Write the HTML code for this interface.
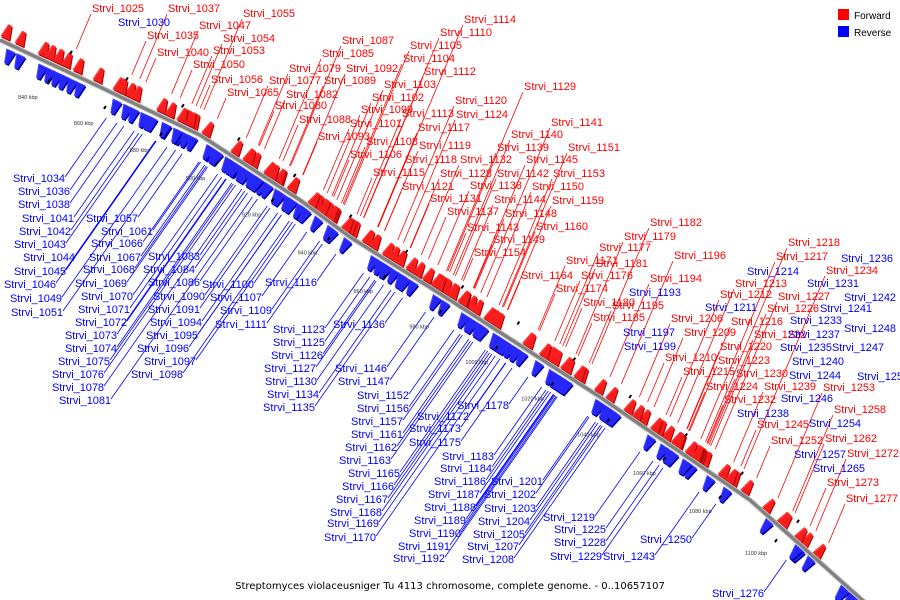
<!DOCTYPE html>
<html><head><meta charset="utf-8">
<style>
html,body{margin:0;padding:0;background:#fff;overflow:hidden;width:900px;height:600px;}
svg{display:block;font-family:"Liberation Sans",sans-serif;overflow:hidden;}
</style></head>
<body>
<svg id="chart" width="900" height="600" viewBox="0 0 900 600">
  <g id="leaders"></g>
  <g id="glyphs"></g>
  <path id="backbone-shadow" fill="none" stroke="#bbb" stroke-width="5"/>
  <path id="backbone" fill="none" stroke="#808080" stroke-width="3"/>
  <g id="ticks"></g>
  <g id="labels"></g>
  <g>
    <rect x="838" y="9" width="11" height="11" fill="#ff0000"/>
    <text x="854" y="19" font-size="10" fill="#000">Forward</text>
    <rect x="838" y="26" width="11" height="11" fill="#0000ff"/>
    <text x="854" y="36" font-size="10" fill="#000">Reverse</text>
  </g>
  <text x="450" y="589" font-size="10" text-anchor="middle" fill="#000" font-family="'DejaVu Sans',sans-serif">Streptomyces violaceusniger Tu 4113 chromosome, complete genome. - 0..10657107</text>
</svg>
<script>
// backbone route (layout geometry)
const bbX = [0,100,200,300,350,450,600,750,860,900];
const bbY = [40,87,135,200,237,300,397,500,598,632];
// tick data
const tickLabels = ["840 kbp","860 kbp","880 kbp","900 kbp","920 kbp","940 kbp","960 kbp","980 kbp","1000 kbp","1020 kbp","1040 kbp","1060 kbp","1080 kbp","1100 kbp"];
const tickKbp = [840,860,880,900,920,940,960,980,1000,1020,1040,1060,1080,1100];
// unlabeled gene positions near the start (x along backbone)
const extraFwdX = [8,22,45,52,60,80,100,120];
const extraRevX = [8,18,40,48,55,62,70,78];
// forward (red) labels
const fwdNames = ["1025","1037","1055","1047","1035","1054","1040","1053","1050","1056","1065","1087","1085","1079","1092","1077","1089","1082","1080","1088","1093","1114","1110","1105","1104","1112","1103","1102","1099","1101","1113","1120","1124","1117","1129","1108","1106","1119","1118","1115","1141","1140","1139","1151","1132","1128","1145","1142","1153","1121","1138","1150","1131","1144","1159","1137","1148","1143","1160","1149","1154","1182","1179","1177","1196","1171","1181","1176","1164","1194","1174","1180","1195","1185","1206","1218","1217","1234","1213","1227","1212","1226","1216","1209","1222","1220","1210","1223","1215","1230","1224","1239","1253","1232","1258","1245","1252","1262","1272","1273","1277"];
const fwdX = [92,168,243,199,147,223,157,213,193,211,227,342,322,289,346,269,324,286,275,299,318,464,440,410,403,424,384,372,361,350,402,455,456,418,524,366,350,419,405,373,551,511,497,568,460,440,526,497,553,402,470,532,430,494,552,447,505,467,536,493,474,650,624,599,674,566,596,581,521,650,556,583,612,593,671,788,776,826,735,778,720,767,731,684,754,720,665,718,683,736,706,764,823,724,834,757,771,825,847,827,846];
const fwdY = [12,12,17,29,39,42,56,54,68,83,96,44,57,72,72,84,84,98,109,123,140,23,36,49,62,75,88,101,113,127,117,104,118,131,90,145,158,149,163,176,126,138,151,151,163,177,163,177,177,190,189,190,202,203,204,215,217,231,230,243,256,226,240,251,259,264,267,279,279,282,292,306,309,321,322,246,260,274,287,300,298,312,325,336,338,350,361,364,375,377,390,390,391,403,413,428,444,442,457,486,502];
// reverse (blue) labels
const revNames = ["1030","1034","1036","1038","1041","1042","1043","1044","1045","1046","1049","1051","1057","1061","1066","1067","1068","1069","1070","1071","1072","1073","1074","1075","1076","1078","1081","1083","1084","1086","1090","1091","1094","1095","1096","1097","1098","1100","1107","1109","1111","1116","1123","1125","1126","1127","1130","1134","1135","1136","1146","1147","1152","1156","1157","1161","1162","1163","1165","1166","1167","1168","1169","1170","1172","1173","1175","1178","1183","1184","1186","1187","1188","1189","1190","1191","1192","1201","1202","1203","1204","1205","1207","1208","1193","1197","1199","1214","1211","1235","1236","1231","1242","1241","1233","1237","1248","1247","1240","1244","1255","1238","1246","1254","1257","1265","1219","1225","1228","1229","1243","1250","1276"];
const revX = [118,13,18,18,22,19,14,23,14,4,10,11,86,101,91,89,83,75,81,78,75,65,65,58,52,52,59,148,143,148,153,148,150,146,137,144,131,202,210,220,215,265,273,273,271,264,265,267,263,333,335,338,357,357,351,351,345,339,348,342,336,330,327,324,417,409,409,457,442,440,434,428,424,414,409,398,393,491,484,484,478,473,467,462,629,623,624,747,705,780,841,807,844,820,790,788,844,832,792,789,857,737,781,809,794,813,543,554,554,550,603,640,712];
const revY = [26,182,195,208,222,235,248,261,275,288,302,316,222,235,247,261,273,287,300,313,326,339,352,365,378,391,404,260,273,286,300,313,326,339,352,365,378,288,301,314,328,286,333,346,359,372,385,398,411,328,372,385,399,412,425,438,451,464,477,490,503,516,527,541,420,432,446,409,460,472,485,498,511,524,537,550,562,485,498,512,525,538,550,563,296,336,350,275,311,351,262,287,301,312,324,338,332,351,365,379,380,417,402,427,458,472,521,533,546,560,560,543,597];

const NS="http://www.w3.org/2000/svg";
function f(x){
  if(x<=bbX[0]) return bbY[0];
  for(let i=1;i<bbX.length;i++){ if(x<=bbX[i]){const t=(x-bbX[i-1])/(bbX[i]-bbX[i-1]);return bbY[i-1]+t*(bbY[i]-bbY[i-1]);} }
  return bbY[bbY.length-1];
}
function slope(x){return (f(x+6)-f(x-6))/12;}
let d="";for(let x=0;x<=900;x+=5){d+=(x?"L":"M")+x+","+f(x).toFixed(1);}
document.getElementById('backbone').setAttribute('d',d);
document.getElementById('backbone-shadow').setAttribute('d',d);
function xOfKbp(k){return 18+(k-840)*2.796;}
const tickG=document.getElementById('ticks');
tickKbp.forEach((k,i)=>{
  const x=xOfKbp(k), y=f(x+22)+40;
  const t=document.createElementNS(NS,'text');
  
  
  t.setAttribute('x',x.toFixed(1));t.setAttribute('y',y.toFixed(1));t.setAttribute('font-size','5.5');t.setAttribute('fill','#333');
  t.textContent=tickLabels[i];tickG.appendChild(t);
  const mx=x+30;
  const m=document.createElementNS(NS,'line');
  
  
  m.setAttribute('x1',mx+2);m.setAttribute('y1',(f(mx)+17).toFixed(1));m.setAttribute('x2',mx);m.setAttribute('y2',(f(mx)+20).toFixed(1));m.setAttribute('stroke','#000');m.setAttribute('stroke-width','2');
  tickG.appendChild(m);
  const ux=x+52;
  const m2=document.createElementNS(NS,'line');
  
  
  m2.setAttribute('x1',ux+2);m2.setAttribute('y1',(f(ux)-22).toFixed(1));m2.setAttribute('x2',ux);m2.setAttribute('y2',(f(ux)-19).toFixed(1));m2.setAttribute('stroke','#000');m2.setAttribute('stroke-width','2');
  tickG.appendChild(m2);
});
const leadG=document.getElementById('leaders'),glyG=document.getElementById('glyphs'),labG=document.getElementById('labels');
function glyph(x,off,fwd,col,dark){
  const y=f(x)+off;
  const a=Math.atan(slope(x))*180/Math.PI;
  const g=document.createElementNS(NS,'g');
  
  
  g.setAttribute('transform',`translate(${x.toFixed(1)},${y.toFixed(1)}) rotate(${a.toFixed(1)})`);
  const shp=fwd?'M-5,7 L-3,-7 L1,-7 L5,7 Z':'M5,-7 L3,7 L-1,7 L-5,-7 Z';
  const p2=document.createElementNS(NS,'path');
  p2.setAttribute('d',shp);p2.setAttribute('fill',dark);p2.setAttribute('transform','translate(1.5,1)');
  g.appendChild(p2);
  const p=document.createElementNS(NS,'path');
  p.setAttribute('d',shp);p.setAttribute('fill',col);p.setAttribute('opacity','0.9');
  g.appendChild(p);
  glyG.appendChild(g);
}
function label(name,x,y,col,fwd){
  const t=document.createElementNS(NS,'text');
  
  
  t.setAttribute('x',x);t.setAttribute('y',y);t.setAttribute('font-size','11');t.setAttribute('fill',col);
  t.setAttribute('textLength','52');
  t.textContent='Strvi_'+name;labG.appendChild(t);
  let sx,sy,dx,dy;
  if(fwd){sx=x-1;sy=y+2;dx=-0.42;dy=1;}else{sx=x+52;sy=y-5;dx=0.7;dy=-1;}
  let ex=sx,ey=sy;
  for(let i=0;i<800;i++){
    if(fwd){ if(ey>=f(ex)-28) break; } else { if(ey<=f(ex)+28) break; }
    ex+=dx;ey+=dy;
  }
  const l=document.createElementNS(NS,'line');
  
  
  l.setAttribute('x1',sx);l.setAttribute('y1',sy);l.setAttribute('x2',ex.toFixed(1));l.setAttribute('y2',ey.toFixed(1));
  l.setAttribute('stroke',col);l.setAttribute('stroke-width','0.8');
  leadG.appendChild(l);
  if(fwd) glyph(ex-8,-12,true,'#ff2020','#b00000');
  else glyph(ex+8,13,false,'#2a2aff','#0000a0');
}
extraFwdX.forEach(x=>glyph(x,-12,true,'#ff2020','#b00000'));
extraRevX.forEach(x=>glyph(x,13,false,'#2a2aff','#0000a0'));
fwdNames.forEach((n,i)=>label(n,fwdX[i],fwdY[i],'#ff0000',true));
revNames.forEach((n,i)=>label(n,revX[i],revY[i],'#0000ff',false));
</script>
</body></html>
